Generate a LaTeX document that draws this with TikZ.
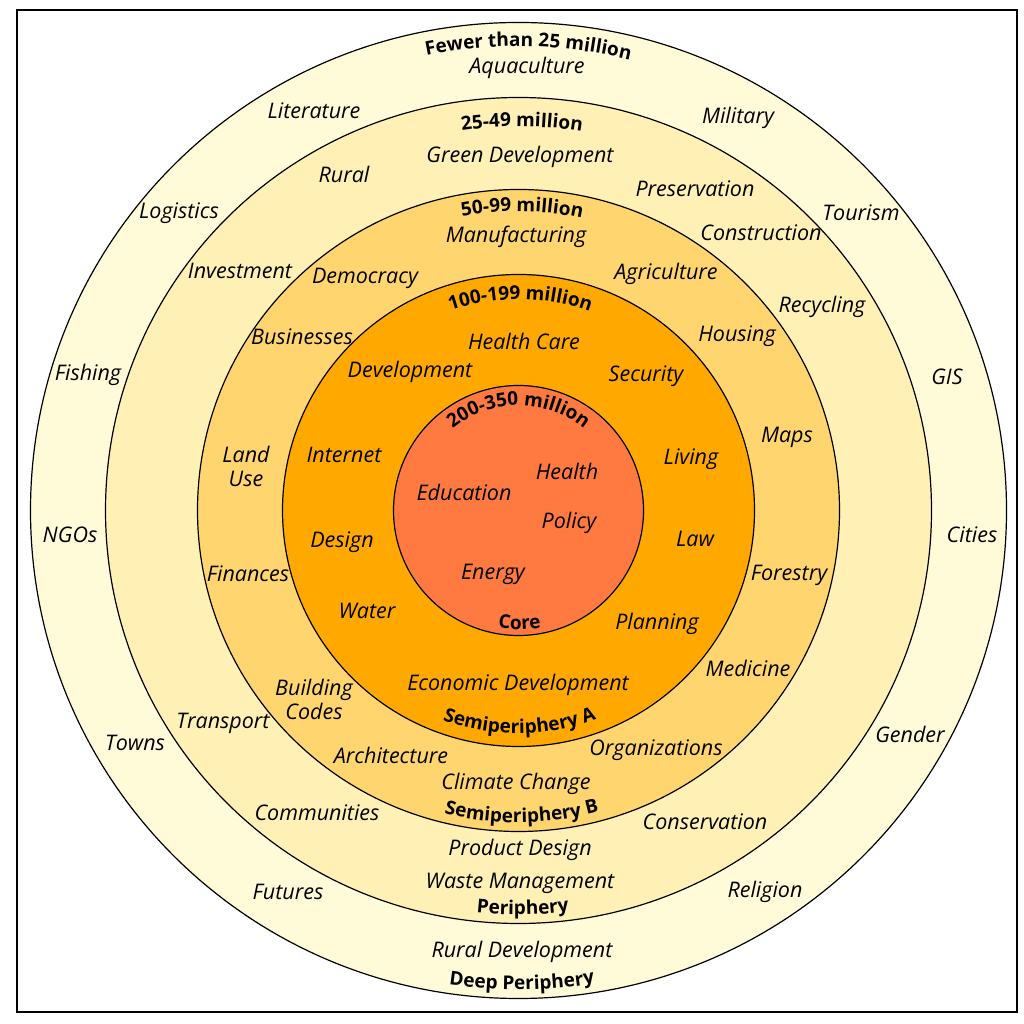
\documentclass[tikz,border=0pt]{standalone}
\usepackage{fontspec}
\setmainfont{Open Sans}
\usetikzlibrary{decorations.text}
\definecolor{deepring}{HTML}{FFFBD8}
\definecolor{perring}{HTML}{FFF0B6}
\definecolor{semibring}{HTML}{FFD56F}
\definecolor{semiaring}{HTML}{FFA800}
\definecolor{corering}{HTML}{FF7A40}
\newcommand\ringfont{\fontsize{19}{22}\selectfont\bfseries}
\tikzset{
  topic/.style={font=\fontsize{21.5}{24}\selectfont\itshape, inner sep=0pt, align=center},
  ring/.style={draw=black, line width=1.2pt},
  ringtext/.style={decorate, decoration={text along path, text align=center, text={|\ringfont|#1}}}
}
\begin{document}
\begin{tikzpicture}[x=1pt, y=1pt]
      \useasboundingbox (0,0) rectangle (1024,1024);
      \fill[white] (0,0) rectangle (1024,1024);
      \draw[line width=1.3pt] (17,12) rectangle (1017,1014);
      \coordinate (c) at (518.5,513.5);

      \filldraw[ring, fill=deepring] (c) circle[radius=488];
      \filldraw[ring, fill=perring] (c) circle[radius=413];
      \filldraw[ring, fill=semibring] (c) circle[radius=321];
      \filldraw[ring, fill=semiaring] (c) circle[radius=236];
      \filldraw[ring, fill=corering] (c) circle[radius=125];

      \path[ringtext={Fewer than 25 million}] (c) ++(128.8:464) arc[start angle=128.8, end angle=48.8, radius=464];
      \path[ringtext={25-49 million}] (c) ++(129.5:384) arc[start angle=129.5, end angle=49.5, radius=384];
      \path[ringtext={50-99 million}] (c) ++(134.3:299) arc[start angle=134.3, end angle=44.3, radius=299];
      \path[ringtext={100-199 million}] (c) ++(149.5:211) arc[start angle=149.5, end angle=29.5, radius=211];
      \path[ringtext={200-350 million}] (c) ++(165:105) arc[start angle=165, end angle=15, radius=105];
      \path[ringtext={Core}] (c) ++(210.5:119) arc[start angle=210.5, end angle=330.5, radius=119];
      \path[ringtext={Semiperiphery A}] (c) ++(210.3:223) arc[start angle=210.3, end angle=330.3, radius=223];
      \path[ringtext={Semiperiphery B}] (c) ++(225.6:312) arc[start angle=225.6, end angle=315.6, radius=312];
      \path[ringtext={Periphery}] (c) ++(230.6:404) arc[start angle=230.6, end angle=310.6, radius=404];
      \path[ringtext={Deep Periphery}] (c) ++(235.4:479) arc[start angle=235.4, end angle=305.4, radius=479];

      \node[topic] (aqua) at (527,956) {Aquaculture};
      \node[topic] (lit) at (314,913) {Literature};
      \node[topic] (mil) at (738,906) {Military};
      \node[topic] (logi) at (179,811) {Logistics};
      \node[topic] (tour) at (861,811) {Tourism};
      \node[topic] (fish) at (88,649) {Fishing};
      \node[topic] (gis) at (947,647) {GIS};
      \node[topic] (ngo) at (70,489) {NGOs};
      \node[topic] (city) at (972,489) {Cities};
      \node[topic] (town) at (135,281) {Towns};
      \node[topic] (gend) at (910,290) {Gender};
      \node[topic] (futu) at (288,132) {Futures};
      \node[topic] (reli) at (765,132) {Religion};
      \node[topic] (ruraldev) at (522,72) {Rural Development};

      \node[topic] (green) at (520,867) {Green Development};
      \node[topic] (rural) at (344,850) {Rural};
      \node[topic] (pres) at (695,835) {Preservation};
      \node[topic] (cons) at (761,791) {Construction};
      \node[topic] (inv) at (240,753) {Investment};
      \node[topic] (recy) at (822,717) {Recycling};
      \node[topic] (trans) at (223,301) {Transport};
      \node[topic] (comm) at (317,211) {Communities};
      \node[topic] (conse) at (705,202) {Conservation};
      \node[topic] (prod) at (520,174) {Product Design};
      \node[topic] (waste) at (520,141) {Waste Management};

      \node[topic] (manu) at (516,787) {Manufacturing};
      \node[topic] (demo) at (365,746) {Democracy};
      \node[topic] (agri) at (666,750) {Agriculture};
      \node[topic] (busi) at (302,687) {Businesses};
      \node[topic] (hous) at (737,688) {Housing};
      \node[topic] (land) at (246,558) {Land\\Use};
      \node[topic] (maps) at (787,587) {Maps};
      \node[topic] (fina) at (248,450) {Finances};
      \node[topic] (fore) at (789,449) {Forestry};
      \node[topic] (build) at (314,325) {Building\\Codes};
      \node[topic] (medi) at (748,356) {Medicine};
      \node[topic] (arch) at (391,269) {Architecture};
      \node[topic] (orga) at (656,274) {Organizations};
      \node[topic] (clim) at (516,240) {Climate Change};

      \node[topic] (hcare) at (524,683) {Health Care};
      \node[topic] (devel) at (410,652) {Development};
      \node[topic] (secu) at (646,648) {Security};
      \node[topic] (inte) at (344,569) {Internet};
      \node[topic] (livi) at (691,565) {Living};
      \node[topic] (desi) at (342,482) {Design};
      \node[topic] (law) at (695,485) {Law};
      \node[topic] (wate) at (367,413) {Water};
      \node[topic] (plan) at (657,400) {Planning};
      \node[topic] (econ) at (518,339) {Economic Development};

      \node[topic] (educ) at (464,532) {Education};
      \node[topic] (heal) at (567,553) {Health};
      \node[topic] (poli) at (569,501) {Policy};
      \node[topic] (ener) at (493,450) {Energy};
    \end{tikzpicture}
\end{document}
